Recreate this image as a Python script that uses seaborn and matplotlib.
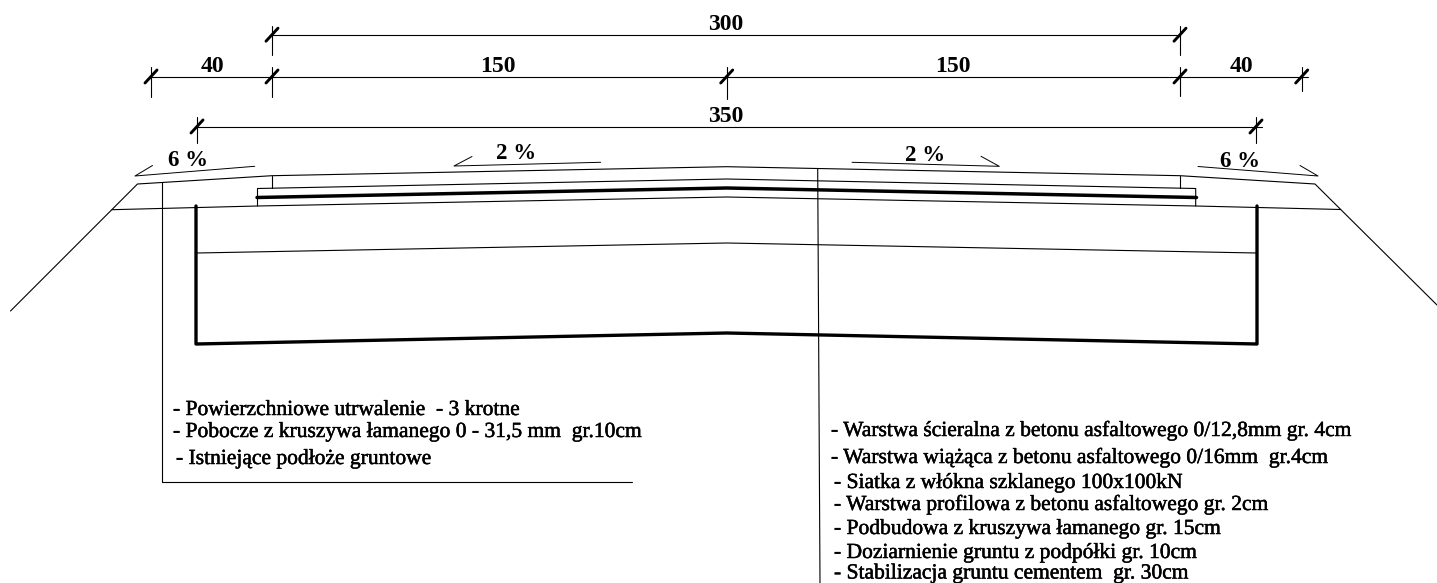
import matplotlib
matplotlib.use("Agg")
import matplotlib.pyplot as plt
import matplotlib.patheffects as pe
import seaborn as sns

sns.set_theme(style="white")
plt.rcParams['font.family'] = ['Liberation Serif', 'DejaVu Serif']

# the drawing is read in picture pixels, y goes down
surface_x = [10.5, 137.5, 272, 726.7, 1180, 1315, 1437]
surface_y = [311, 184, 175.7, 166.7, 175.7, 184, 305]
subgrade_x = [112, 257.5, 726.7, 1195.7, 1340.7]
subgrade_y = [209.7, 206, 197, 206, 209.5]
layer_x = [257.5, 257.5, 726.7, 1195.7, 1195.7]
layer_y = [206, 188.5, 179, 188.5, 206]
mesh_x = [257, 726.7, 1196.5]
mesh_y = [197.5, 188, 197.5]
trench_x = [196, 196, 726.7, 1257, 1257]
trench_y = [206, 344, 333, 344, 206]
stab_x = [197, 726.7, 1257]
stab_y = [253, 243, 253]
edge_left_x = [272, 272]
edge_right_x = [1180, 1180]
edge_y = [175.7, 188]

leader_left_x = [162, 162, 632]
leader_left_y = [182, 481.5, 481.5]
leader_right_x = [817.7, 820]
leader_right_y = [168.5, 583]

# dimension rows
dim_rows_y = [34.7, 76.5, 126.5]
dim_rows_x = [[272, 1180], [151, 1308], [197, 1262]]
dim_ticks = [[272, 1180], [151, 272, 726.7, 1180, 1301.7], [197, 1256]]
dim_ext = [[(26, 55), (26, 55)],
           [(67, 97), (67, 97), (67, 99), (67, 96), (67, 91)],
           [(117, 143), (117, 143)]]
dim_labels = ["300", "40", "150", "150", "40", "350"]
dim_label_x = [726, 212, 498, 953, 1241, 726]
dim_label_y = [30.5, 71.7, 71.7, 71.7, 71.7, 121.7]

# slope arrows
arrows_x = [[152.5, 135, 254.7], [472, 454, 600.7], [981, 999.3, 852], [1300, 1318, 1198]]
arrows_y = [[165.5, 176, 166.3], [156.5, 166, 162.3], [156.3, 166.3, 162.3], [165.5, 176, 166.5]]
slope_labels = ["6 %", "2 %", "2 %", "6 %"]
slope_label_x = [188, 516, 925, 1240]
slope_label_y = [165.7, 159.3, 160.7, 166.7]

left_notes = ["- Powierzchniowe utrwalenie  - 3 krotne",
              "- Pobocze z kruszywa łamanego 0 - 31,5 mm  gr.10cm",
              "- Istniejące podłoże gruntowe"]
left_notes_x = [173, 173, 176]
left_notes_y = [415, 437, 464]
right_notes = ["- Warstwa ścieralna z betonu asfaltowego 0/12,8mm gr. 4cm",
               "- Warstwa wiążąca z betonu asfaltowego 0/16mm  gr.4cm",
               "- Siatka z włókna szklanego 100x100kN",
               "- Warstwa profilowa z betonu asfaltowego gr. 2cm",
               "- Podbudowa z kruszywa łamanego gr. 15cm",
               "- Doziarnienie gruntu z podpółki gr. 10cm",
               "- Stabilizacja gruntu cementem  gr. 30cm"]
right_notes_x = [831, 831, 834, 834, 834, 834, 834]
right_notes_y = [436, 463, 488, 510, 534, 558, 578.5]

fig = plt.figure(figsize=(14.37, 5.83), dpi=100)
ax = fig.add_axes([0, 0, 1, 1])

# the scan makes the notes a bit heavier than the regular face
heavy = [pe.withStroke(linewidth=0.35, foreground="black")]


def draw(xs, ys, lw=0.8):
    sns.lineplot(x=xs, y=ys, ax=ax, sort=False, estimator=None, errorbar=None,
                 color="black", linewidth=lw, legend=False)


# road body
draw(surface_x, surface_y)
draw(subgrade_x, subgrade_y)
draw(layer_x, layer_y)
draw(edge_left_x, edge_y)
draw(edge_right_x, edge_y)
draw(stab_x, stab_y)
draw(mesh_x, mesh_y, lw=2.5)
draw(trench_x, trench_y, lw=2.4)

# leaders
draw(leader_left_x, leader_left_y)
draw(leader_right_x, leader_right_y)

# dimensions
for y, xs, ticks, exts in zip(dim_rows_y, dim_rows_x, dim_ticks, dim_ext):
    draw(xs, [y, y])
    for t, ext in zip(ticks, exts):
        draw([t, t], list(ext))
        draw([t - 6, t + 6], [y + 6.5, y - 6.5], lw=2.1)
for lab, x, y in zip(dim_labels, dim_label_x, dim_label_y):
    ax.text(x, y, lab, ha="center", va="baseline", fontsize=17, fontweight="bold", color="black")

# slopes
for xs, ys in zip(arrows_x, arrows_y):
    draw(xs, ys, lw=0.7)
for lab, x, y in zip(slope_labels, slope_label_x, slope_label_y):
    ax.text(x, y, lab, ha="center", va="baseline", fontsize=16.5, fontweight="bold", color="black")

# layer notes
for lab, x, y in zip(left_notes, left_notes_x, left_notes_y):
    ax.text(x, y, lab, ha="left", va="baseline", fontsize=15.5, color="black", path_effects=heavy)
for lab, x, y in zip(right_notes, right_notes_x, right_notes_y):
    ax.text(x, y, lab, ha="left", va="baseline", fontsize=15.5, color="black", path_effects=heavy)

ax.set_xlim(0, 1437)
ax.set_ylim(583, 0)
ax.axis("off")

plt.savefig("out.png", dpi=100)
